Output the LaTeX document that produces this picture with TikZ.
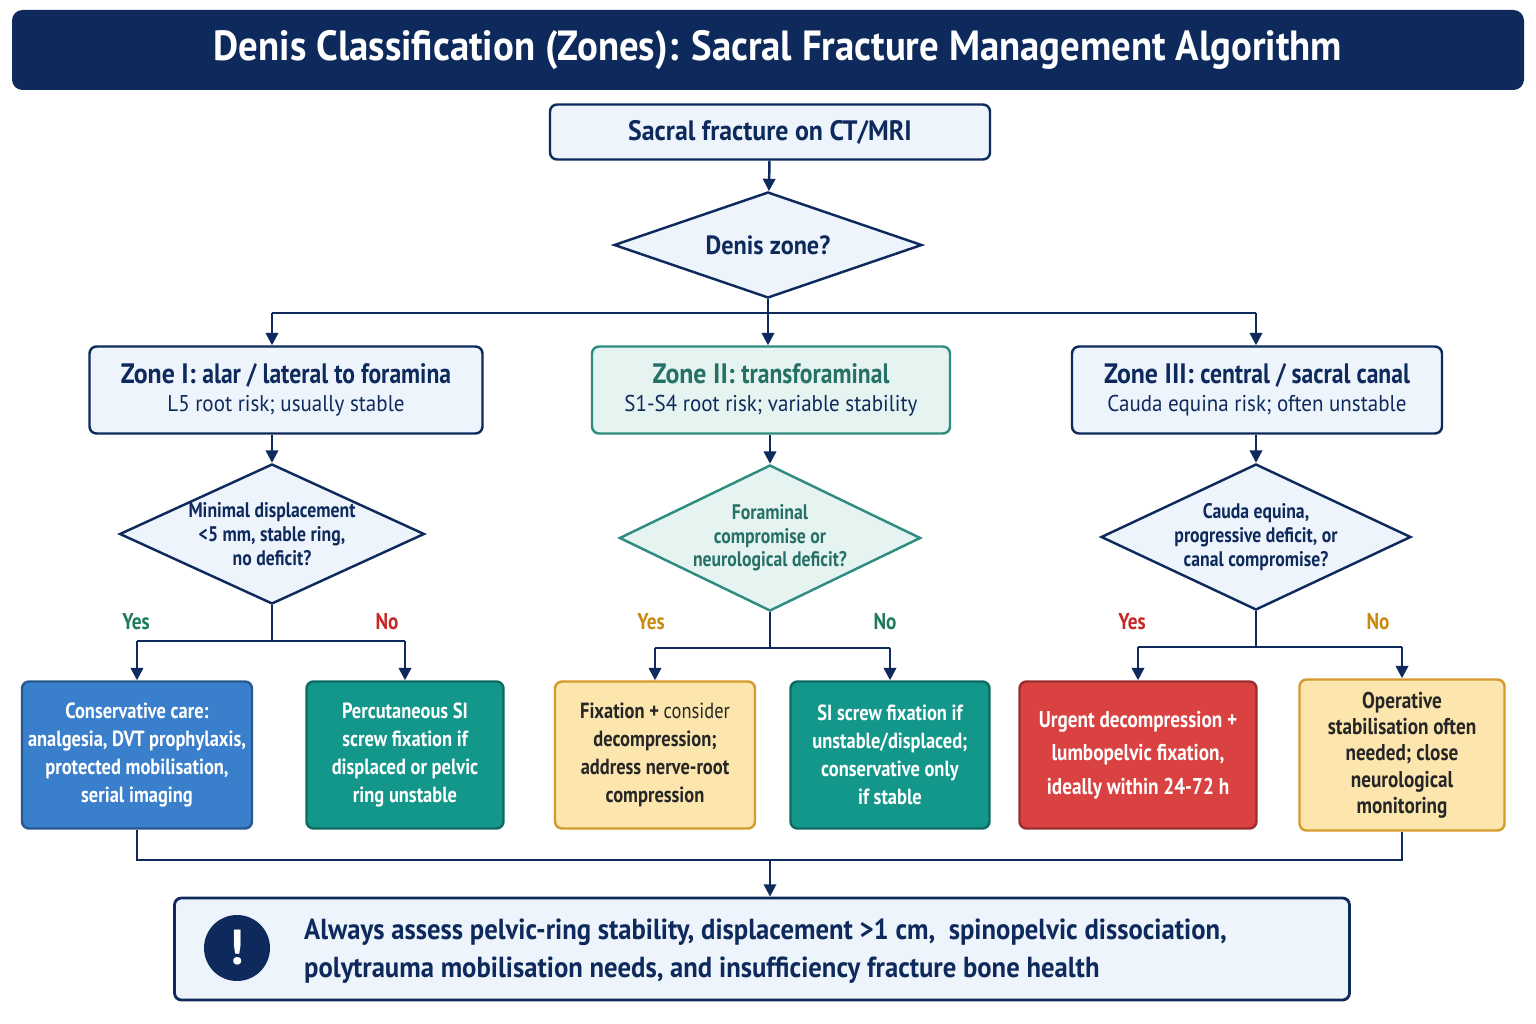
\documentclass[tikz,border=0pt]{standalone}
\usepackage{fontspec}
\setmainfont{PT Sans}
\newfontfamily\narrow{PT Sans}[FakeStretch=0.84]
\newfontfamily\semi{PT Sans}[FakeStretch=0.92]
\usepackage{tikz}
\usetikzlibrary{shapes.geometric,arrows.meta,calc}
\definecolor{navy}{HTML}{0E2A5C}
\definecolor{paleblue}{HTML}{EEF4FB}
\definecolor{paleteal}{HTML}{E6F4F1}
\definecolor{tealb}{HTML}{2E8C80}
\definecolor{bluef}{HTML}{3A7FCB}
\definecolor{tealf}{HTML}{13978B}
\definecolor{yellf}{HTML}{FCE6AE}
\definecolor{yelld}{HTML}{D49A2E}
\definecolor{redf}{HTML}{DA4141}
\definecolor{yesg}{HTML}{1E7A5E}
\definecolor{nored}{HTML}{C62828}
\definecolor{noor}{HTML}{C98A10}
\tikzset{
  box/.style={draw=navy, line width=1.4pt, fill=paleblue, rounded corners=4pt, align=center, text=navy},
  dia/.style={diamond, draw=navy, line width=1.4pt, fill=paleblue, aspect=2.2, inner sep=0pt, align=center, text=navy, font=\narrow\fontsize{12}{13.5}\selectfont\bfseries},
  leaf/.style={draw=#1!70!black, line width=1.4pt, fill=#1, rounded corners=4pt, align=center, text=white, font=\narrow\fontsize{12.5}{16}\selectfont\bfseries},
  line/.style={draw=navy, line width=1.4pt},
  arr/.style={line, -{Triangle[length=7pt,width=7pt]}},
  lab/.style={font=\narrow\fontsize{13}{14}\selectfont\bfseries}
}
\begin{document}
\begin{tikzpicture}[x=0.02cm, y=-0.02cm]
\useasboundingbox (0,0) rectangle (1536,1024);
% title
\fill[navy, rounded corners=6pt] (12,10) rectangle (1524,90);
\node[text=white, font=\semi\fontsize{24}{28}\selectfont\bfseries] (title) at (778,50) {Denis Classification (Zones): Sacral Fracture Management Algorithm};
% start
\node[box, minimum width=440*0.02cm, minimum height=55*0.02cm, font=\semi\fontsize{16}{18}\selectfont\bfseries] (start) at (770,132) {Sacral fracture on CT/MRI};
\node[dia, minimum width=308*0.02cm, minimum height=106*0.02cm, font=\semi\fontsize{15}{18}\selectfont\bfseries] (zone) at (768,245) {Denis zone?};
% zones
\node[box, minimum width=393*0.02cm, minimum height=87*0.02cm] (z1) at (286,390)
  {{\semi\fontsize{16}{18}\selectfont\bfseries Zone I: {\narrow alar / lateral to foramina}}\\[4pt]{\semi\fontsize{13}{15}\selectfont L5 root risk; usually stable}};
\node[box, draw=tealb, fill=paleteal, text=tealb!80!black, minimum width=358*0.02cm, minimum height=87*0.02cm] (z2) at (771,390)
  {{\semi\fontsize{16}{18}\selectfont\bfseries Zone II: {\narrow transforaminal}}\\[4pt]{\semi\fontsize{13}{15}\selectfont\color{navy} S1-S4 root risk; variable stability}};
\node[box, minimum width=370*0.02cm, minimum height=87*0.02cm] (z3) at (1257,390)
  {{\semi\fontsize{16}{18}\selectfont\bfseries Zone III: {\narrow central / sacral canal}}\\[4pt]{\semi\fontsize{13}{15}\selectfont Cauda equina risk; often unstable}};
% questions
\node[dia, minimum width=304*0.02cm, minimum height=140*0.02cm] (q1) at (272,534) {Minimal displacement\\\textless5 mm, stable ring,\\no deficit?};
\node[dia, draw=tealb, fill=paleteal, text=tealb!80!black, minimum width=290*0.02cm, minimum height=146*0.02cm] (q2) at (770,538) {Foraminal\\compromise or\\neurological deficit?};
\node[dia, minimum width=296*0.02cm, minimum height=146*0.02cm] (q3) at (1256,537) {Cauda equina,\\progressive deficit, or\\canal compromise?};
% leaves
\node[leaf=bluef, minimum width=230*0.02cm, minimum height=147*0.02cm] (a) at (137,755) {Conservative care:\\analgesia, DVT prophylaxis,\\protected mobilisation,\\serial imaging};
\node[leaf=tealf, minimum width=197*0.02cm, minimum height=147*0.02cm] (b) at (405,755) {Percutaneous SI\\screw fixation if\\displaced or pelvic\\ring unstable};
\node[leaf=yellf, draw=yelld, text=black!85, minimum width=200*0.02cm, minimum height=147*0.02cm] (c) at (655,755) {Fixation + {\mdseries consider}\\decompression;\\address nerve-root\\compression};
\node[leaf=tealf, minimum width=199*0.02cm, minimum height=147*0.02cm] (d) at (890,755) {SI screw fixation if\\unstable/displaced;\\conservative only\\if stable};
\node[leaf=redf, minimum width=237*0.02cm, minimum height=147*0.02cm, font=\narrow\fontsize{13}{19}\selectfont\bfseries] (e) at (1138,755) {Urgent decompression +\\lumbopelvic fixation,\\ideally within 24-72 h};
\node[leaf=yellf, draw=yelld, text=black!85, minimum width=205*0.02cm, minimum height=151*0.02cm, font=\narrow\fontsize{13}{15}\selectfont\bfseries] (f) at (1402,755) {Operative\\stabilisation often\\needed; close\\neurological\\monitoring};
% bottom
\node[box, line width=1.6pt, minimum width=1175*0.02cm, minimum height=102*0.02cm] (note) at (762,949) {};
\node[circle, fill=navy, minimum size=66*0.02cm, text=white, font=\fontsize{28}{28}\selectfont\bfseries] (warn) at (237,948) {!};
\node[anchor=west, align=left, text=navy, font=\semi\fontsize{16.5}{22}\selectfont\bfseries] (notetext) at (298,951) {Always assess pelvic-ring stability, displacement \textgreater1 cm,\ \ spinopelvic dissociation,\\polytrauma mobilisation needs, and insufficiency fracture bone health};
% connectors
\draw[arr] (start) -- (zone);
\coordinate (br) at (768,313);
\draw[line] (zone.south) -- (br);
\draw[line] (q1.north |- br) -- (q3.north |- br);
\draw[arr] (br) -- (br |- z2.north);
\draw[arr] (q1.north |- br) -- (q1.north |- z1.north);
\draw[arr] (q3.north |- br) -- (q3.north |- z3.north);
\foreach \z/\q in {z1/q1, z2/q2, z3/q3} \draw[arr] (\q.north |- \z.south) -- (\q.north);
\foreach \q/\l/\r in {q1/a/b, q2/c/d, q3/e/f} {
  \coordinate (s\q) at ($(\q.south)+(0,36)$);
  \draw[line] (\q.south) -- (s\q);
  \draw[line] (\l.north |- s\q) -- (\r.north |- s\q);
  \draw[arr] (\l.north |- s\q) -- (\l.north);
  \draw[arr] (\r.north |- s\q) -- (\r.north);
}
\node[lab, text=yesg] (y1) at (136,622) {Yes};
\node[lab, text=nored] (n1) at (387,622) {No};
\node[lab, text=noor] (y2) at (651,622) {Yes};
\node[lab, text=yesg] (n2) at (885,622) {No};
\node[lab, text=nored] (y3) at (1132,622) {Yes};
\node[lab, text=noor] (n3) at (1378,622) {No};
\coordinate (m) at (770,860);
\draw[line] (a.south) -- (a.south |- m) -- (f.south |- m) -- (f.south);
\draw[arr] (m) -- (m |- note.north);
\end{tikzpicture}
\end{document}
